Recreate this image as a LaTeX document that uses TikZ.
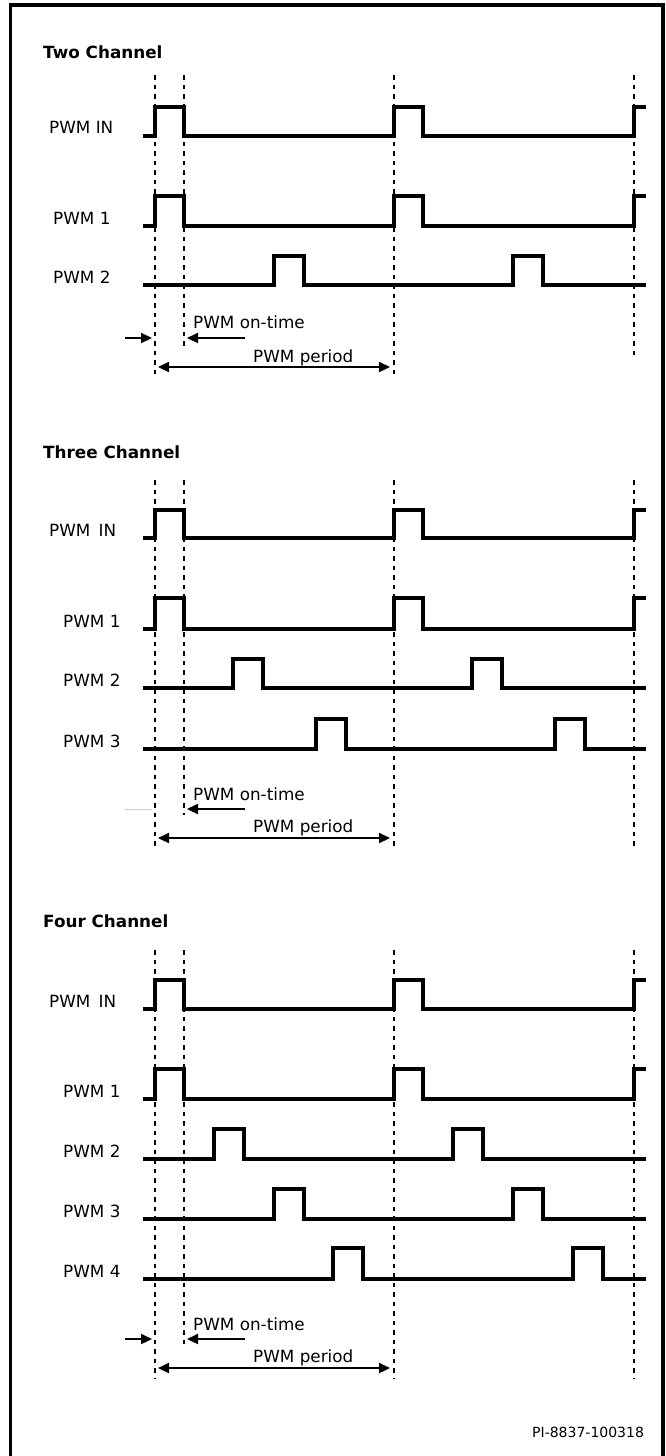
\documentclass[tikz,border=0pt]{standalone}
\usepackage{fontspec}
\setmainfont{DejaVu Sans}
\usetikzlibrary{arrows.meta}

\begin{document}
\begin{tikzpicture}[x=1pt,y=-1pt,
  sig/.style={line width=3.2pt,line join=miter},
  edge/.style={line width=2pt,dash pattern=on 4.5pt off 5pt},
  dimarrow/.style={line width=2.2pt,-{Triangle[length=11pt,width=10pt]}},
  dimboth/.style={line width=2.2pt,{Triangle[length=11pt,width=10pt]}-{Triangle[length=11pt,width=10pt]}},
  lbl/.style={anchor=base west,inner sep=0pt,font=\fontsize{16.8}{20}\selectfont},
  ttl/.style={lbl,font=\fontsize{16.8}{20}\selectfont\bfseries}]
\useasboundingbox (0,0) rectangle (665,1456);
\draw[line width=3.2pt] (10.5,1470) -- (10.5,5) -- (663,5) -- (663,1470);

\node[ttl] (twotitle) at (43,58) {Two Channel};
\draw[edge] (155,75) -- (155,378);
\draw[edge] (184,75) -- (184,347);
\draw[edge] (394,75) -- (394,378);
\draw[edge] (634,75) -- (634,355);
\node[lbl] (twoin) at (49,133) {PWM IN};
\draw[sig] (143,136) -| (155,107) -| (184,136) -| (394,107) -| (423,136) -| (634,107) -- (646,107);
\node[lbl] (twoa) at (53,224) {PWM 1};
\draw[sig] (143,226) -| (155,196) -| (184,226) -| (394,196) -| (423,226) -| (634,196) -- (646,196);
\node[lbl] (twob) at (53,283) {PWM 2};
\draw[sig] (143,285) -| (274,256) -| (304,285) -| (513,256) -| (543,285) -- (646,285);
\node[lbl] (twoon) at (193,328) {PWM on-time};
\draw[dimarrow] (125,338) -- (152,338);
\draw[dimarrow] (245,338) -- (187,338);
\node[lbl] (twoper) at (253,362) {PWM period};
\draw[dimboth] (158,367) -- (390,367);

\node[ttl] (threetitle) at (43,458) {Three Channel};
\draw[edge] (155,480) -- (155,847);
\draw[edge] (184,480) -- (184,815);
\draw[edge] (394,480) -- (394,847);
\draw[edge] (634,480) -- (634,847);
\node[lbl] (threein) at (49,536) {PWM~\,IN};
\draw[sig] (143,538) -| (155,510) -| (184,538) -| (394,510) -| (423,538) -| (634,510) -- (646,510);
\node[lbl] (threea) at (63,627) {PWM 1};
\draw[sig] (143,629) -| (155,598) -| (184,629) -| (394,598) -| (423,629) -| (634,598) -- (646,598);
\node[lbl] (threeb) at (63,686) {PWM 2};
\draw[sig] (143,688) -| (233,659) -| (263,688) -| (472,659) -| (502,688) -- (646,688);
\node[lbl] (threec) at (63,747) {PWM 3};
\draw[sig] (143,749) -| (316,719) -| (346,749) -| (555,719) -| (585,749) -- (646,749);
\node[lbl] (threeon) at (193,800) {PWM on-time};
\draw[gray!40,line width=1pt] (125,809) -- (152,809);
\draw[dimarrow] (245,809) -- (187,809);
\node[lbl] (threeper) at (253,832) {PWM period};
\draw[dimboth] (158,838) -- (390,838);

\node[ttl] (fourtitle) at (43,927) {Four Channel};
\draw[edge] (155,950) -- (155,1379);
\draw[edge] (184,950) -- (184,1347);
\draw[edge] (394,950) -- (394,1379);
\draw[edge] (634,950) -- (634,1379);
\node[lbl] (fourin) at (49,1007) {PWM~\,IN};
\draw[sig] (143,1009) -| (155,980) -| (184,1009) -| (394,980) -| (423,1009) -| (634,980) -- (646,980);
\node[lbl] (foura) at (63,1097) {PWM 1};
\draw[sig] (143,1099) -| (155,1069) -| (184,1099) -| (394,1069) -| (423,1099) -| (634,1069) -- (646,1069);
\node[lbl] (fourb) at (63,1157) {PWM 2};
\draw[sig] (143,1159) -| (214,1129) -| (244,1159) -| (453,1129) -| (483,1159) -- (646,1159);
\node[lbl] (fourc) at (63,1217) {PWM 3};
\draw[sig] (143,1219) -| (274,1189) -| (304,1219) -| (513,1189) -| (543,1219) -- (646,1219);
\node[lbl] (fourd) at (63,1277) {PWM 4};
\draw[sig] (143,1279) -| (333,1248) -| (363,1279) -| (573,1248) -| (603,1279) -- (646,1279);
\node[lbl] (fouron) at (193,1330) {PWM on-time};
\draw[dimarrow] (125,1339) -- (152,1339);
\draw[dimarrow] (245,1339) -- (187,1339);
\node[lbl] (fourper) at (253,1362) {PWM period};
\draw[dimboth] (158,1368) -- (390,1368);

\node[lbl,font=\fontsize{14}{17}\selectfont] (code) at (532,1437) {PI-8837-100318};
\end{tikzpicture}
\end{document}
